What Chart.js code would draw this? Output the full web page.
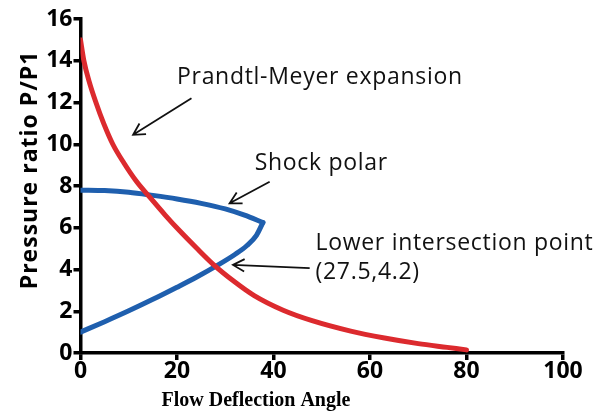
<!DOCTYPE html>
<html>
<head>
<meta charset="utf-8">
<script src="https://cdn.jsdelivr.net/npm/chart.js@4.4.1/dist/chart.umd.min.js"></script>
<style>
  html, body { margin: 0; padding: 0; background: #fff; }
  #wrap { width: 602px; height: 411px; }
</style>
</head>
<body>
<div id="wrap"><canvas id="chart"></canvas></div>
<script>
// Prandtl-Meyer expansion curve
const pmAngle = [0, 0.7, 1.8, 3.2, 4.8, 6.7, 9, 11.5, 14.4, 17.5, 20.6, 24, 27.5, 32, 36, 42, 48, 56, 63, 70, 76, 80];
const pmRatio = [15, 14, 13, 12, 11, 10, 9.1, 8.25, 7.45, 6.62, 5.84, 5.04, 4.25, 3.4, 2.75, 2.05, 1.55, 1.05, 0.72, 0.45, 0.27, 0.15];

// shock polar, upper (strong) branch and lower (weak) branch
const upperAngle = [0, 5, 10, 15, 20, 25, 30, 34, 37.8];
const upperRatio = [7.8, 7.78, 7.7, 7.55, 7.38, 7.17, 6.9, 6.6, 6.25];
const lowerAngle = [0, 5, 10, 15, 20, 24, 28, 32, 34.5, 36.5, 37.8];
const lowerRatio = [1.0, 1.5, 2.02, 2.57, 3.15, 3.63, 4.15, 4.72, 5.15, 5.65, 6.25];

const xTicks = [0, 20, 40, 60, 80, 100];
const yTicks = [0, 2, 4, 6, 8, 10, 12, 14, 16];

// labels and arrows, in data units
const notes = [
    { text: "Prandtl-Meyer expansion", x: 20, y: 13.2, from: [23, 12.2], to: [10.9, 10.45] },
    { text: "Shock polar", x: 36.1, y: 9.1, from: [39.2, 8.2], to: [30.9, 7.17] },
    { text: "Lower intersection point", x: 48.7, y: 5.27, from: [47.5, 4.07], to: [31.6, 4.22] },
    { text: "(27.5,4.2)", x: 48.7, y: 3.88 }
];

const toPts = (xs, ys) => xs.map((x, i) => ({ x: x, y: ys[i] }));

const red = "#dc2a2e";
const blue = "#1f5fae";

function drawArrow(ctx, x1, y1, x2, y2) {
    const a = Math.atan2(y2 - y1, x2 - x1);
    const len = 13;
    ctx.beginPath();
    ctx.moveTo(x1, y1);
    ctx.lineTo(x2, y2);
    ctx.moveTo(x2 - len * Math.cos(a - 0.5), y2 - len * Math.sin(a - 0.5));
    ctx.lineTo(x2, y2);
    ctx.lineTo(x2 - len * Math.cos(a + 0.5), y2 - len * Math.sin(a + 0.5));
    ctx.stroke();
}

const extras = {
    id: "extras",
    afterDraw(chart) {
        const ctx = chart.ctx;
        const xs = chart.scales.x, ys = chart.scales.y;
        ctx.save();
        ctx.fillStyle = "#111";
        ctx.strokeStyle = "#111";
        ctx.lineWidth = 1.8;
        ctx.font = "23px 'Open Sans'";
        ctx.letterSpacing = "0.7px";
        ctx.textBaseline = "middle";
        ctx.textAlign = "left";
        notes.forEach(n => {
            ctx.fillText(n.text, xs.getPixelForValue(n.x), ys.getPixelForValue(n.y));
            if (n.from) {
                drawArrow(ctx,
                    xs.getPixelForValue(n.from[0]), ys.getPixelForValue(n.from[1]),
                    xs.getPixelForValue(n.to[0]), ys.getPixelForValue(n.to[1]));
            }
        });

        // axis titles
        ctx.fillStyle = "#000";
        ctx.letterSpacing = "0px";
        ctx.font = "bold 20px 'Liberation Serif'";
        ctx.textAlign = "center";
        ctx.fillText("Flow Deflection Angle", 256, 401);
        ctx.translate(30, 170);
        ctx.rotate(-Math.PI / 2);
        ctx.font = "bold 23px 'Open Sans'";
        ctx.letterSpacing = "1px";
        ctx.fillText("Pressure ratio P/P1", 0, 0);
        ctx.restore();
    }
};

const axisStyle = {
    grid: { display: true, drawOnChartArea: false, drawTicks: true, tickLength: 7, color: "#000", lineWidth: 3.5 },
    border: { display: true, color: "#000", width: 3.5 }
};

const tickFont = { family: "Open Sans", size: 23, weight: "bold" };

new Chart(document.getElementById("chart"), {
    type: "scatter",
    data: {
        datasets: [
            { data: toPts(pmAngle, pmRatio), borderColor: red },
            { data: toPts(upperAngle, upperRatio), borderColor: blue },
            { data: toPts(lowerAngle, lowerRatio), borderColor: blue }
        ]
    },
    options: {
        responsive: true,
        maintainAspectRatio: false,
        animation: false,
        showLine: true,
        elements: {
            point: { radius: 0 },
            line: { borderWidth: 5, cubicInterpolationMode: "monotone", borderCapStyle: "round", borderJoinStyle: "round" }
        },
        layout: { padding: { top: 19, right: 39, left: 0, bottom: 0 } },
        plugins: { legend: { display: false }, tooltip: { enabled: false } },
        scales: {
            x: {
                ...axisStyle,
                min: 0, max: 100,
                afterBuildTicks: s => { s.ticks = xTicks.map(v => ({ value: v })); },
                afterFit: s => { s.height = 58; },
                ticks: { color: "#000", font: tickFont, padding: -2, maxRotation: 0 }
            },
            y: {
                ...axisStyle,
                min: 0, max: 16,
                afterBuildTicks: s => { s.ticks = yTicks.map(v => ({ value: v })); },
                afterFit: s => { s.width = 80.5; },
                ticks: { color: "#000", font: tickFont, padding: 1 }
            }
        }
    },
    plugins: [extras]
});
</script>
</body>
</html>
